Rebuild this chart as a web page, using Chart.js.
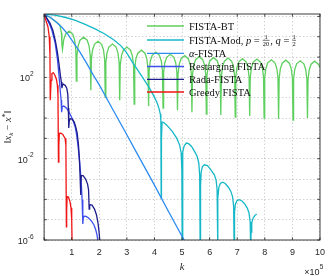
<!DOCTYPE html>
<html><head><meta charset="utf-8">
<script src="https://cdn.jsdelivr.net/npm/chart.js@4.4.1/dist/chart.umd.min.js"></script>
<style>html,body{margin:0;padding:0;background:#fff}#wrap{width:332px;height:276px}</style>
</head><body><div id="wrap"><canvas id="c" width="332" height="276"></canvas></div>
<script>
// ---- data (k in units of 1e5, values stored as log10 of ||x_k - x*||) ----
const seriesNames = ['FISTA-BT', 'FISTA-Mod, p = 1/20, q = 1/2', 'α-FISTA', 'Restarging FISTA', 'Rada-FISTA', 'Greedy FISTA'];
const seriesColors = ['#5fcf5f', '#16b8c8', '#2d8cf0', '#3d4ff0', '#1c1c8c', '#f01414'];
const xTickValues = [0,1,2,3,4,5,6,7,8,9,10];
const yGridExponents = [-6,-5,-4,-3,-2,-1,0,1,2,3,4,5];
const yLabelExponents = [-6,-2,2];

const greenK = [0,0.212,0.427,0.571,0.628,0.646,
0.667,0.709,0.777,0.908,1.038,1.106,1.148,
1.170,1.191,1.233,1.301,1.432,1.562,1.630,1.672,
1.693,1.714,1.756,1.824,1.955,2.085,2.153,2.195,
2.217,2.238,2.280,2.348,2.479,2.609,2.677,2.719,
2.740,2.761,2.803,2.871,3.002,3.132,3.200,3.242,
3.264,3.285,3.327,3.395,3.526,3.656,3.724,3.766,
3.787,3.808,3.850,3.918,4.049,4.179,4.247,4.289,
4.311,4.332,4.374,4.442,4.573,4.703,4.771,4.813,
4.834,4.855,4.897,4.965,5.096,5.226,5.294,5.336,
5.358,5.379,5.421,5.489,5.620,5.750,5.818,5.860,
5.881,5.902,5.944,6.012,6.143,6.273,6.341,6.383,
6.405,6.426,6.468,6.536,6.667,6.797,6.865,6.907,
6.928,6.949,6.991,7.059,7.190,7.320,7.388,7.430,
7.452,7.473,7.515,7.583,7.714,7.844,7.912,7.954,
7.975,7.996,8.038,8.106,8.237,8.367,8.435,8.477,
8.499,8.520,8.562,8.630,8.761,8.891,8.959,9.001,
9.022,9.043,9.085,9.153,9.284,9.414,9.482,9.524,
9.546,9.567,9.609,9.677,9.808,9.938,10.0];
const greenLog = [5.11,4.96,4.74,4.57,4.18,3.59,
3.375,3.845,4.125,4.275,4.125,3.845,3.375,
1.82,3.08,3.55,3.83,3.98,3.83,3.55,3.08,
1.37,2.88,3.35,3.63,3.78,3.63,3.35,2.88,
1.03,2.74,3.21,3.49,3.64,3.49,3.21,2.74,
0.88,2.59,3.06,3.34,3.49,3.34,3.06,2.59,
0.69,2.44,2.91,3.19,3.34,3.19,2.91,2.44,
0.59,2.34,2.81,3.09,3.24,3.09,2.81,2.34,
0.49,2.24,2.71,2.99,3.14,2.99,2.71,2.24,
0.39,2.17,2.64,2.92,3.07,2.92,2.64,2.17,
0.29,2.12,2.59,2.87,3.02,2.87,2.59,2.12,
0.19,2.07,2.54,2.82,2.97,2.82,2.54,2.07,
0.15,2.05,2.52,2.80,2.95,2.80,2.52,2.05,
0.05,2.02,2.49,2.77,2.92,2.77,2.49,2.02,
0.10,2.00,2.47,2.75,2.90,2.75,2.47,2.00,
0.00,1.97,2.44,2.72,2.87,2.72,2.44,1.97,
-0.05,1.95,2.42,2.70,2.85,2.70,2.42,1.95,
-0.10,1.92,2.39,2.67,2.82,2.67,2.39,1.92,
0.00,1.90,2.37,2.65,2.80,2.65,2.50];

const cyanK = [0,0.391,0.750,1.109,1.468,1.827,2.186,2.545,2.796,2.976,3.202,3.442,3.621,3.801,3.980,4.088,4.160,4.214,4.232,4.243,4.254,4.275,4.340,4.447,4.638,4.806,4.914,4.968,4.993,5.004,
5.018,5.032,5.075,5.154,5.237,5.345,5.452,5.542,5.607,5.639,5.657,
5.671,5.693,5.739,5.811,5.919,6.027,6.170,6.235,6.271,6.289,
6.303,6.332,6.386,6.468,6.565,6.673,6.770,6.834,6.870,6.888,
6.902,6.935,6.996,7.068,7.175,7.283,7.365,7.427,7.470,7.488,
7.502,7.527,7.570,7.635,7.703];
const cyanLog = [5.11,5.06,4.96,4.82,4.62,4.40,4.15,3.83,3.54,3.24,2.75,2.26,1.89,1.52,1.08,0.78,0.49,0.19,-0.10,-3.94,-1.08,-0.20,-0.22,-0.35,-0.64,-0.99,-1.33,-1.72,-2.56,-6.49,
-2.31,-1.67,-1.38,-1.23,-1.26,-1.40,-1.64,-1.87,-2.21,-2.80,-6.49,
-3.30,-2.66,-2.39,-2.30,-2.34,-2.51,-2.79,-3.05,-3.54,-6.49,
-3.94,-3.42,-3.22,-3.16,-3.22,-3.39,-3.61,-3.89,-4.33,-6.49,
-4.62,-4.23,-4.06,-4.02,-4.08,-4.25,-4.43,-4.67,-5.12,-6.49,
-5.61,-5.16,-4.94,-4.80,-4.72];

const alphaK = [0,0.215,0.430,0.643,0.858,1.048,1.289,1.540,1.773,2.006,2.455,2.904,3.442,3.981,4.519,5.093];
const alphaLog = [5.11,4.96,4.74,4.47,4.13,3.75,3.27,2.70,2.14,1.62,0.51,-0.59,-1.92,-3.25,-4.62,-6.05];

const restartK = [0,0.104,0.212,0.284,0.402,0.488,0.546,0.589,0.617,0.635,0.657,0.696,0.750,0.822,0.912,0.991,1.055,1.127,1.181,1.235,1.289,1.342,1.378,1.403,1.421,1.450,1.522,1.612,1.719,1.809,1.874,1.917,1.945,1.971];
const restartLog = [5.11,4.87,4.57,4.32,3.69,2.85,2.01,1.28,0.88,0.29,0.54,0.59,0.56,0.47,0.27,0.05,-0.15,-0.44,-0.84,-1.43,-2.17,-3.05,-4.03,-5.21,-4.92,-4.83,-4.84,-4.92,-5.07,-5.26,-5.51,-5.75,-6.00,-6.49];

const radaK = [0,0.104,0.212,0.316,0.409,0.481,0.546,0.589,0.625,0.646,0.664,0.696,0.768,0.822,0.858,0.879,0.894,0.912,0.948,1.019,1.091,1.145,1.199,1.246,1.281,1.303,1.321,1.335,1.353,1.414,1.504,1.576,1.612,1.633,1.651,1.676,1.737,1.827,1.899,1.953,1.989,2.017,2.042];
const radaLog = [5.11,4.90,4.67,4.32,3.80,3.24,2.60,2.11,1.77,1.47,1.62,1.67,1.60,1.47,1.18,0.49,-0.49,-0.15,-0.03,-0.05,-0.20,-0.42,-0.74,-1.33,-2.07,-2.80,-3.79,-3.15,-2.83,-2.83,-3.00,-3.25,-3.54,-4.48,-4.33,-4.26,-4.28,-4.48,-4.77,-5.16,-5.56,-6.00,-6.49];

const greedyK = [0,0.043,0.140,0.187,0.212,0.223,0.255,0.284,0.337,0.391,0.445,0.481,0.503,0.520,0.535,0.553,0.607,0.678,0.761,0.790,0.808,0.818,0.833,0.883,0.940,0.976,1.001,1.019];
const greedyLog = [5.11,4.90,4.49,4.00,3.10,0.88,1.87,2.20,2.23,2.11,1.92,1.62,1.13,-2.17,-1.33,-0.75,-0.74,-0.81,-1.00,-1.33,-5.35,-4.53,-3.87,-3.89,-4.12,-4.43,-5.02,-6.49];

const seriesK = [greenK, cyanK, alphaK, restartK, radaK, greedyK];
const seriesLog = [greenLog, cyanLog, alphaLog, restartLog, radaLog, greedyLog];

const toPoints = (ks, ls) => ks.map((k, i) => ({x: k, y: Math.pow(10, ls[i])}));

const datasets = seriesNames.map((name, i) => ({
  label: name,
  data: toPoints(seriesK[i], seriesLog[i]),
  borderColor: seriesColors[i],
  backgroundColor: seriesColors[i],
  borderWidth: 1.3,
  pointRadius: 0,
  showLine: true,
  tension: 0,
  fill: false,
  order: seriesNames.length - i
}));

const AX = '#262626';
const SERIF = '"Liberation Serif", "Times New Roman", serif';
const SANS = '"Liberation Sans", Arial, sans-serif';

function drawParts(ctx, parts, x, baseY) {
  let cx = x;
  parts.forEach(p => {
    ctx.font = p.f;
    if (p.frac) {
      ctx.font = p.f;
      const wn = ctx.measureText(p.num).width, wd = ctx.measureText(p.den).width;
      const w = Math.max(wn, wd) + 1;
      const bar = baseY - 3.2;
      ctx.textAlign = 'center';
      ctx.fillText(p.num, cx + w / 2, bar - 1.1);
      ctx.fillText(p.den, cx + w / 2, bar + 5.8);
      ctx.textAlign = 'left';
      ctx.beginPath(); ctx.lineWidth = 0.6; ctx.strokeStyle = '#111';
      ctx.moveTo(cx + 0.3, bar); ctx.lineTo(cx + w - 0.3, bar); ctx.stroke();
      cx += w + 0.5;
    } else {
      ctx.fillText(p.t, cx, baseY + (p.dy || 0));
      cx += ctx.measureText(p.t).width;
    }
  });
  return cx - x;
}
function measureParts(ctx, parts) {
  let w = 0;
  parts.forEach(p => {
    ctx.font = p.f;
    if (p.frac) w += Math.max(ctx.measureText(p.num).width, ctx.measureText(p.den).width) + 1.5;
    else w += ctx.measureText(p.t).width;
  });
  return w;
}

const overlay = {
  id: 'overlay',
  afterDatasetsDraw(chart) {
    const {ctx, chartArea: a, scales: {x, y}} = chart;
    ctx.save();
    // inward tick marks
    ctx.strokeStyle = AX; ctx.lineWidth = 0.8;
    ctx.beginPath();
    xTickValues.forEach(v => {
      const px = x.getPixelForValue(v);
      ctx.moveTo(px, a.bottom); ctx.lineTo(px, a.bottom - 2.8);
      ctx.moveTo(px, a.top); ctx.lineTo(px, a.top + 2.8);
    });
    yGridExponents.forEach(e => {
      const py = y.getPixelForValue(Math.pow(10, e));
      ctx.moveTo(a.left, py); ctx.lineTo(a.left + 2.8, py);
      ctx.moveTo(a.right, py); ctx.lineTo(a.right - 2.8, py);
    });
    ctx.stroke();
    // axes box
    ctx.lineWidth = 0.9;
    ctx.strokeRect(a.left, a.top, a.right - a.left, a.bottom - a.top);

    // y tick labels 10^n
    ctx.fillStyle = AX;
    ctx.textBaseline = 'alphabetic';
    yLabelExponents.forEach(e => {
      const py = y.getPixelForValue(Math.pow(10, e));
      const exp = String(e);
      ctx.font = '6.5px ' + SANS;
      const we = ctx.measureText(exp).width;
      ctx.font = '9px ' + SANS;
      const wb = ctx.measureText('10').width;
      const xEnd = 33.5;
      ctx.textAlign = 'left';
      ctx.fillText('10', xEnd - we - wb, py + 4);
      ctx.font = '6.5px ' + SANS;
      ctx.fillText(exp, xEnd - we, py - 1.5);
    });

    // x axis title k
    ctx.font = 'italic 10.5px ' + SERIF;
    ctx.textAlign = 'center';
    ctx.fillText('k', (a.left + a.right) / 2, 269.5);

    // x10^5 multiplier
    ctx.font = '9px ' + SANS;
    ctx.textAlign = 'right';
    ctx.fillText('×10', 319.6, 275);
    ctx.font = '6.5px ' + SANS;
    ctx.textAlign = 'left';
    ctx.fillText('5', 319.8, 269.3);

    // y axis title ||x_k - x*||
    const yParts = [
      {t: '‖', f: '10px ' + SERIF},
      {t: 'x', f: 'italic 10.5px ' + SERIF},
      {t: 'k', f: 'italic 7px ' + SERIF, dy: 2},
      {t: ' − ', f: '10px ' + SERIF},
      {t: 'x', f: 'italic 10.5px ' + SERIF},
      {t: '*', f: '7.5px ' + SERIF, dy: -3.5},
      {t: '‖', f: '10px ' + SERIF}
    ];
    ctx.save();
    ctx.translate(11, (a.top + a.bottom) / 2);
    ctx.rotate(-Math.PI / 2);
    const wy = measureParts(ctx, yParts);
    ctx.textAlign = 'left';
    drawParts(ctx, yParts, -wy / 2, 0);
    ctx.restore();

    // legend
    const legY = [26, 40, 53.3, 66.5, 79.3, 92];
    chart.data.datasets.forEach((ds, i) => {
      const ly = legY[i];
      ctx.beginPath();
      ctx.strokeStyle = ds.borderColor; ctx.lineWidth = 1.3;
      ctx.moveTo(147, ly); ctx.lineTo(184, ly); ctx.stroke();
      ctx.fillStyle = '#111';
      ctx.textAlign = 'left';
      const base = ly + 3.5;
      let parts;
      if (i === 1) {
        parts = [
          {t: 'FISTA-Mod, ', f: '10.5px ' + SERIF},
          {t: 'p', f: 'italic 10.5px ' + SERIF},
          {t: ' = ', f: '10.5px ' + SERIF},
          {frac: true, num: '1', den: '20', f: '6.5px ' + SERIF},
          {t: ', ', f: '10.5px ' + SERIF},
          {t: 'q', f: 'italic 10.5px ' + SERIF},
          {t: ' = ', f: '10.5px ' + SERIF},
          {frac: true, num: '1', den: '2', f: '6.5px ' + SERIF}
        ];
      } else if (i === 2) {
        parts = [
          {t: 'α', f: 'italic 10.5px ' + SERIF},
          {t: '-FISTA', f: '10.5px ' + SERIF}
        ];
      } else {
        parts = [{t: ds.label, f: '10.5px ' + SERIF}];
      }
      drawParts(ctx, parts, 189, base);
    });
    ctx.restore();
  }
};

Chart.defaults.font.family = SANS;
new Chart(document.getElementById('c'), {
  type: 'scatter',
  data: {datasets},
  options: {
    responsive: false,
    animation: false,
    devicePixelRatio: 1,
    layout: {padding: {left: 0, right: 9.3, top: 14, bottom: 0}},
    plugins: {legend: {display: false}, tooltip: {enabled: false}},
    scales: {
      x: {
        type: 'linear', min: 0, max: 10,
        afterFit(s) { s.height = 36; },
        afterBuildTicks(s) { s.ticks = xTickValues.map(v => ({value: v})); },
        ticks: {autoSkip: false, maxRotation: 0, padding: 7, color: AX, font: {size: 9, family: SANS},
          callback: v => v === 0 ? '' : String(v)},
        grid: {color: 'rgba(38,38,38,0.3)', lineWidth: 0.7, drawTicks: false},
        border: {display: false, dash: [1.5, 2]}
      },
      y: {
        type: 'logarithmic', min: 1e-6, max: Math.pow(10, 5.12),
        afterFit(s) { s.width = 44.1; },
        afterBuildTicks(s) { s.ticks = yGridExponents.map(e => ({value: Math.pow(10, e)})); },
        ticks: {display: false},
        grid: {color: 'rgba(38,38,38,0.3)', lineWidth: 0.7, drawTicks: false},
        border: {display: false, dash: [1.5, 2]}
      }
    }
  },
  plugins: [overlay]
});
</script>
</body></html>
